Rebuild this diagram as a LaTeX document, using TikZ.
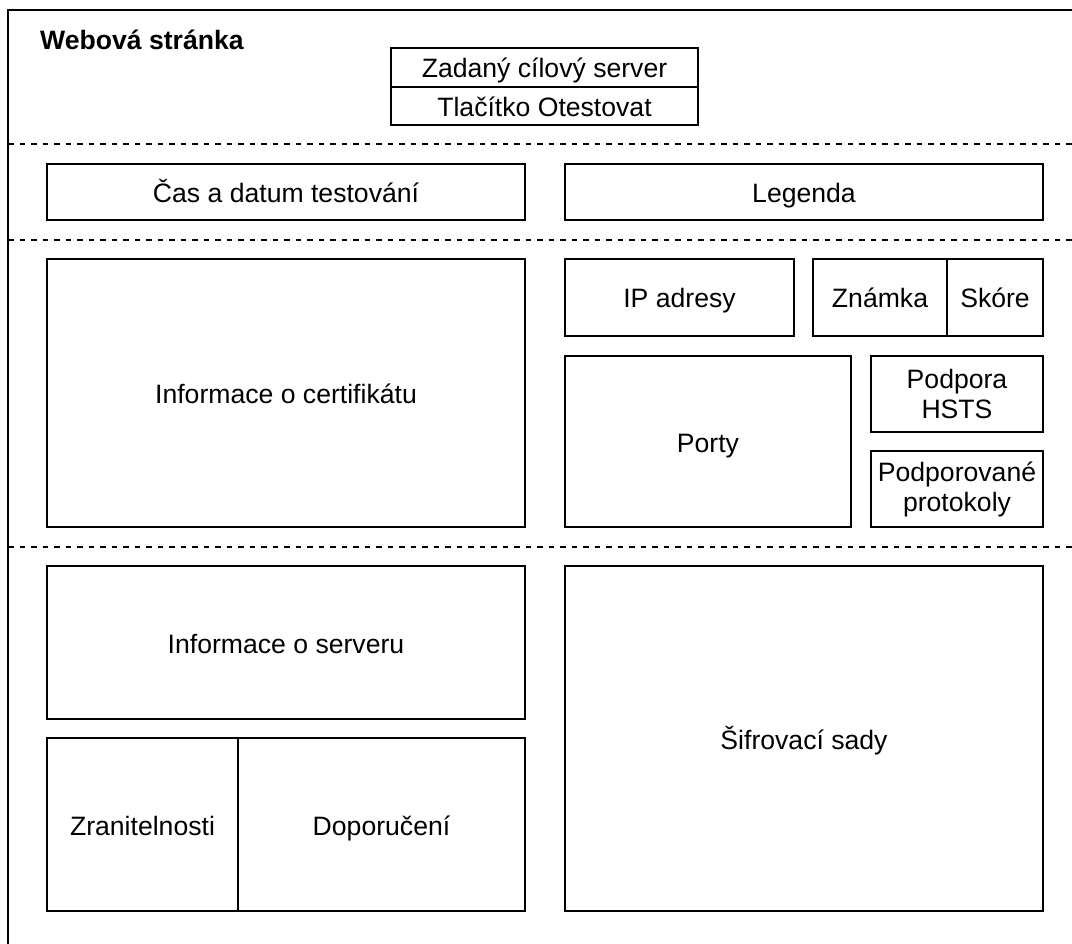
\documentclass[tikz,border=0pt]{standalone}
\usepackage{fontspec}
\setmainfont{Liberation Sans}
\begin{document}
\begin{tikzpicture}[x=1pt,y=-1pt,
  box/.style={draw=black, line width=1.6pt, inner sep=0pt, align=center,
    font=\fontsize{26.6}{32}\selectfont, text height=21pt, text depth=0pt},
  box2/.style={draw=black, line width=1.6pt, inner sep=0pt, align=center,
    font=\fontsize{26.6}{30}\selectfont},
  sep/.style={draw=black, line width=1.4pt, dash pattern=on 5.7pt off 5.8pt},
  frame/.style={draw=black, line width=1.6pt}]
\useasboundingbox (0,0) rectangle (1072,944);
% outer frame (only top and left visible)
\coordinate (ftr) at (1072,10);
\coordinate (ftl) at (8,10);
\coordinate (fbl) at (8,944);
\draw[frame] (ftr) -- (ftl) -- (fbl);
% dashed separators
\coordinate (s1a) at (8,144);  \coordinate (s1b) at (1072,144);
\coordinate (s2a) at (8,240);  \coordinate (s2b) at (1072,240);
\coordinate (s3a) at (8,547);  \coordinate (s3b) at (1072,547);
\draw[sep] (s1a) -- (s1b);
\draw[sep] (s2a) -- (s2b);
\draw[sep] (s3a) -- (s3b);
% title
\node[anchor=base west, inner sep=0pt, font=\fontsize{26.6}{32}\selectfont\bfseries] (title) at (40,50) {Webová stránka};
% header boxes
\node[box, minimum width=307pt, minimum height=39pt] (zad) at (544.5,67.5) {Zadaný cílový server};
\node[box, minimum width=307pt, minimum height=38pt] (tla) at (544.5,106) {Tlačítko Otestovat};
% second row
\node[box, minimum width=478pt, minimum height=56pt] (cas) at (286,192) {Čas a datum testování};
\node[box, minimum width=478pt, minimum height=56pt] (leg) at (804,192) {Legenda};
% third row
\node[box, minimum width=478pt, minimum height=268pt] (cert) at (286,393) {Informace o certifikátu};
\node[box, minimum width=229pt, minimum height=77pt] (ip) at (679.5,297.5) {IP adresy};
\node[box, minimum width=134pt, minimum height=77pt] (zn) at (880,297.5) {Známka};
\node[box, minimum width=96pt, minimum height=77pt] (sk) at (995,297.5) {Skóre};
\node[box, minimum width=286pt, minimum height=171pt] (porty) at (708,441.5) {Porty};
\node[box2, minimum width=172pt, minimum height=76pt] (hsts) at (957,394) {Podpora\\HSTS};
\node[box2, minimum width=172pt, minimum height=76pt] (prot) at (957,489) {Podporované\\protokoly};
% fourth row
\node[box, minimum width=478pt, minimum height=153pt] (serv) at (286,642.5) {Informace o serveru};
\node[box, minimum width=191pt, minimum height=173pt] (zran) at (142.5,824.5) {Zranitelnosti};
\node[box, minimum width=287pt, minimum height=173pt] (dop) at (381.5,824.5) {Doporučení};
\node[box, minimum width=478pt, minimum height=345pt] (sif) at (804,738.5) {Šifrovací sady};
\end{tikzpicture}
\end{document}
